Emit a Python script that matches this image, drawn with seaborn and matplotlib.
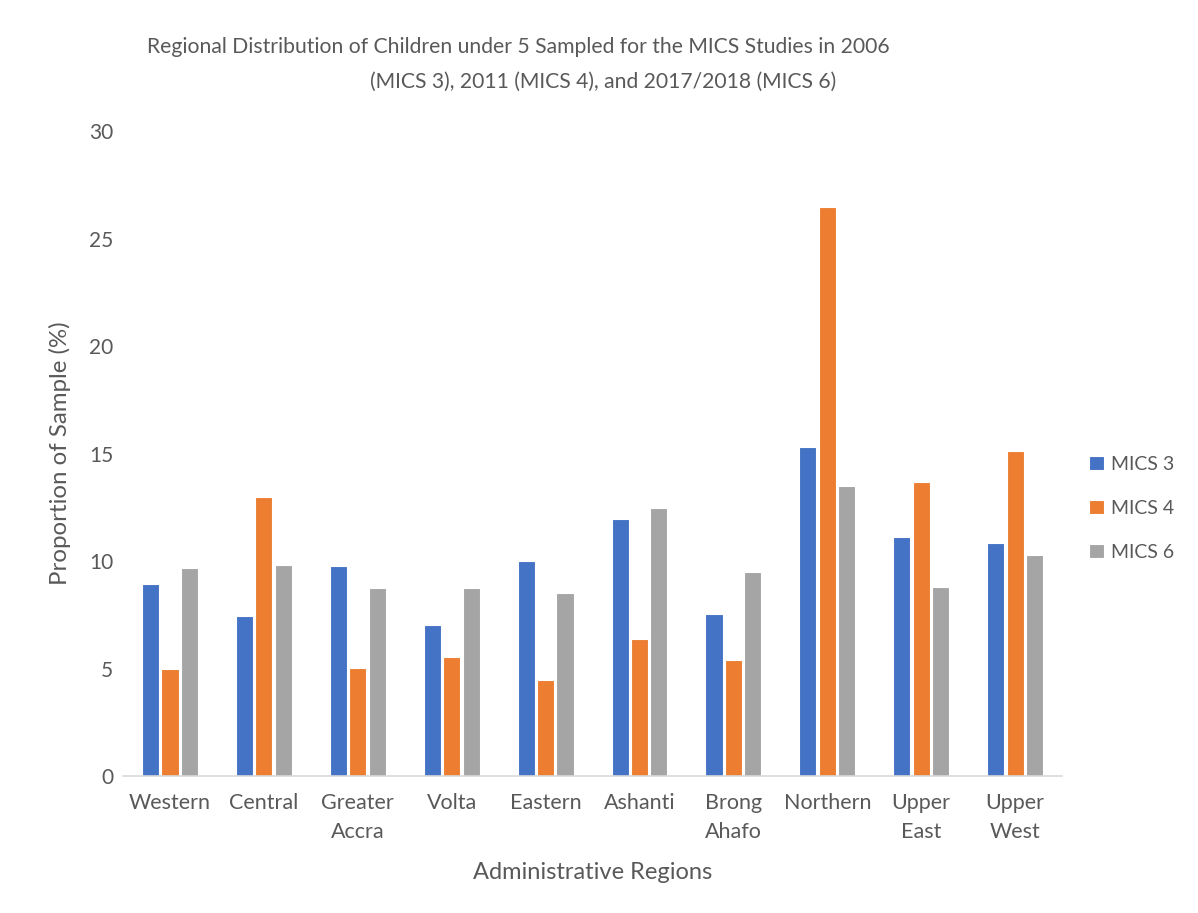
import matplotlib
matplotlib.use("Agg")
import matplotlib.pyplot as plt
import seaborn as sns
import pandas as pd

# Regional share of sampled under-5 children (%) per survey round
regions = ["Western", "Central", "Greater\nAccra", "Volta", "Eastern", "Ashanti",
           "Brong\nAhafo", "Northern", "Upper\nEast", "Upper\nWest"]
mics3 = [8.94, 7.46, 9.77, 7.01, 10.0, 11.96, 7.53, 15.29, 11.12, 10.85]
mics4 = [4.96, 13.0, 5.04, 5.52, 4.47, 6.38, 5.4, 26.45, 13.68, 15.12]
mics6 = [9.69, 9.83, 8.74, 8.73, 8.51, 12.45, 9.48, 13.5, 8.77, 10.29]
series_names = ["MICS 3", "MICS 4", "MICS 6"]
y_ticks = [0, 5, 10, 15, 20, 25, 30]
title_lines = ["Regional Distribution of Children under 5 Sampled for the MICS Studies in 2006",
               "(MICS 3), 2011 (MICS 4), and 2017/2018 (MICS 6)"]

df = pd.DataFrame({
    "Region": regions * 3,
    "Survey": [s for s in series_names for _ in regions],
    "Value": mics3 + mics4 + mics6,
})

sns.set_theme(style="white")
plt.rcParams["font.family"] = ["Lato", "DejaVu Sans"]
text_color = "#595959"

W, H = 1198, 913
fig = plt.figure(figsize=(W / 100, H / 100), dpi=100)
ax = fig.add_axes([0.1027, 0.150, 0.7838, 0.7065])

palette = {"MICS 3": "#4472C4", "MICS 4": "#ED7D31", "MICS 6": "#A5A5A5"}
sns.barplot(data=df, x="Region", y="Value", hue="Survey", palette=palette,
            width=0.62, gap=0.12, edgecolor="white", linewidth=0.8,
            saturation=1, ax=ax, legend=True)

ax.set_ylim(0, 30)
ax.set_yticks(y_ticks)
ax.set_yticklabels([str(t) for t in y_ticks], fontsize=15, color=text_color)
ax.tick_params(axis="x", labelsize=15.5, labelcolor=text_color, length=0, pad=12)
ax.tick_params(axis="y", length=0, pad=7)
for lbl in ax.get_xticklabels():
    lbl.set_linespacing(1.6)

for side in ["top", "right", "left"]:
    ax.spines[side].set_visible(False)
ax.spines["bottom"].set_color("#D9D9D9")
ax.spines["bottom"].set_linewidth(1.2)

ax.set_xlabel("Administrative Regions", fontsize=17, color=text_color, labelpad=14)
ax.set_ylabel("Proportion of Sample (%)", fontsize=17.3, color=text_color, labelpad=13)

# Two-line chart title, each line placed on its own centre
fig.text(518 / W, 1 - 47 / H, title_lines[0], ha="center", va="center",
         fontsize=15.2, color=text_color)
fig.text(603 / W, 1 - 82 / H, title_lines[1], ha="center", va="center",
         fontsize=15.2, color=text_color)

leg = ax.legend(loc="center left", bbox_to_anchor=(1.01, 0.415), frameon=False,
                fontsize=14, handlelength=0.75, handleheight=0.75,
                handletextpad=0.4, labelspacing=1.4)
for t in leg.get_texts():
    t.set_color(text_color)

fig.savefig("out.png", dpi=100, facecolor="white")
